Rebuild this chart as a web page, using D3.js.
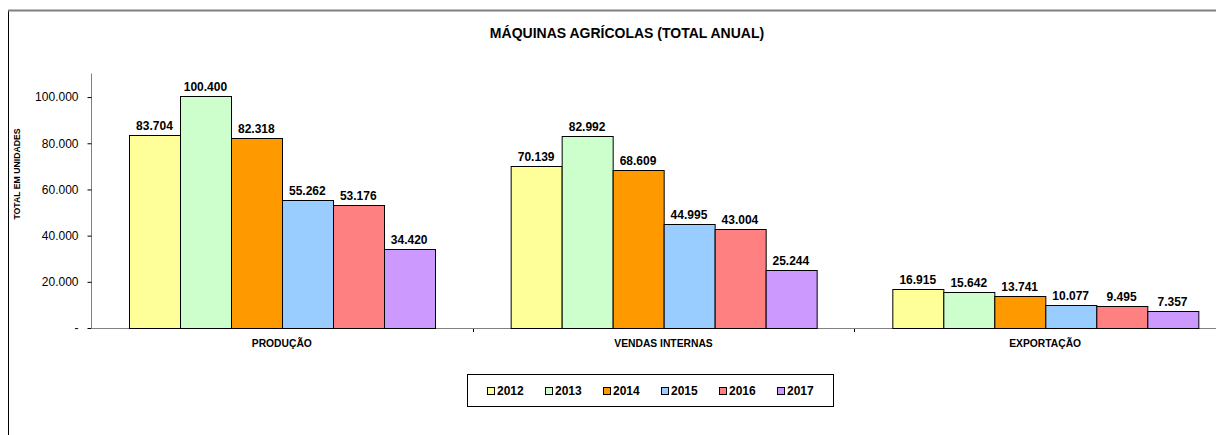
<!DOCTYPE html>
<html><head><meta charset="utf-8">
<script src="https://cdn.jsdelivr.net/npm/d3@7"></script>
<style>body{margin:0;background:#fff}svg{display:block;font-family:"Liberation Sans",Arial,sans-serif}</style>
</head><body><svg id="c" width="1216" height="435"></svg>
<script>
const categories = ["PRODUÇÃO","VENDAS INTERNAS","EXPORTAÇÃO"];
const years = ["2012","2013","2014","2015","2016","2017"];
const v2012 = [83704,70139,16915];
const v2013 = [100400,82992,15642];
const v2014 = [82318,68609,13741];
const v2015 = [55262,44995,10077];
const v2016 = [53176,43004,9495];
const v2017 = [34420,25244,7357];
const yTicks = [0,20000,40000,60000,80000,100000];
const colors = ["#FFFF99","#CCFFCC","#FF9900","#99CCFF","#FF8080","#CC99FF"];
const seriesVals = [v2012,v2013,v2014,v2015,v2016,v2017];

const svg = d3.select("#c");
const fmt = v => v===0 ? "-" : d3.format(",")(v).replace(/,/g,".");

// outer frame
svg.append("rect").attr("x",8.5).attr("y",10.5).attr("width",1260).attr("height",500)
  .attr("fill","none").attr("stroke","#000").attr("stroke-width",1);
svg.append("line").attr("x1",8).attr("x2",1216).attr("y1",10.5).attr("y2",10.5).attr("stroke","#808080").attr("stroke-width",2);

svg.append("text").attr("x",627).attr("y",38).attr("text-anchor","middle")
  .attr("font-size",14).attr("font-weight","bold").text("MÁQUINAS AGRÍCOLAS (TOTAL ANUAL)");

const x0 = d3.scaleBand().domain(categories).range([91,1236]).paddingInner(0).paddingOuter(0);
const y = d3.scaleLinear().domain([0,110000]).range([328,74]);
const x1 = d3.scaleBand().domain(years).range([38, x0.bandwidth()-38]);

// axes
const yAxis = d3.axisLeft(y).tickValues(yTicks).tickSize(4).tickFormat(fmt);
const gy = svg.append("g").attr("transform","translate(91.5,0)").call(yAxis);
gy.select(".domain").attr("stroke","#808080").attr("d","M0,73.5V328.5");
gy.selectAll(".tick line").attr("stroke","#000");
gy.selectAll(".tick text").attr("font-size",12).attr("fill","#000").attr("x",-13)
  .attr("font-family","Liberation Sans, Arial, sans-serif");

svg.append("line").attr("x1",91).attr("x2",1216).attr("y1",328.5).attr("y2",328.5).attr("stroke","#808080").attr("stroke-width",1);

// category separators
[1,2].forEach(i=>{
  const xx = Math.round(x0(categories[i]))+0.5;
  svg.append("line").attr("x1",xx).attr("x2",xx).attr("y1",329).attr("y2",332).attr("stroke","#000");
});

svg.append("text").attr("transform","translate(20,174) rotate(-90)").attr("text-anchor","middle")
  .attr("font-size",8.7).attr("font-weight","bold").text("TOTAL EM UNIDADES");

const groups = svg.append("g").selectAll("g").data(categories).join("g")
  .attr("transform",d=>`translate(${x0(d)},0)`);

groups.each(function(cat,ci){
  const g = d3.select(this);
  years.forEach((yr,si)=>{
    const val = seriesVals[si][ci];
    g.append("rect").attr("x",Math.round(x1(yr))+0.5).attr("y",Math.round(y(val))+0.5)
      .attr("width",Math.round(x1.bandwidth())).attr("height",Math.round(328-y(val)))
      .attr("fill",colors[si]).attr("stroke","#000").attr("stroke-width",1);
    g.append("text").attr("x",x1(yr)+x1.bandwidth()/2).attr("y",y(val)-5)
      .attr("text-anchor","middle").attr("font-size",12).attr("font-weight","bold").text(fmt(val));
  });
  g.append("text").attr("x",x0.bandwidth()/2).attr("y",347).attr("text-anchor","middle")
    .attr("font-size",10.3).attr("font-weight","bold").text(cat);
});

// legend
svg.append("rect").attr("x",467.5).attr("y",374.5).attr("width",366).attr("height",32)
  .attr("fill","#fff").attr("stroke","#000");
const lx = d3.scaleLinear().domain([0,5]).range([487,777]);
years.forEach((yr,i)=>{
  svg.append("rect").attr("x",lx(i)+0.5).attr("y",387.5).attr("width",7).attr("height",7)
    .attr("fill",colors[i]).attr("stroke","#000");
  svg.append("text").attr("x",lx(i)+10).attr("y",395).attr("font-size",12).attr("font-weight","bold").text(yr);
});
</script></body></html>
